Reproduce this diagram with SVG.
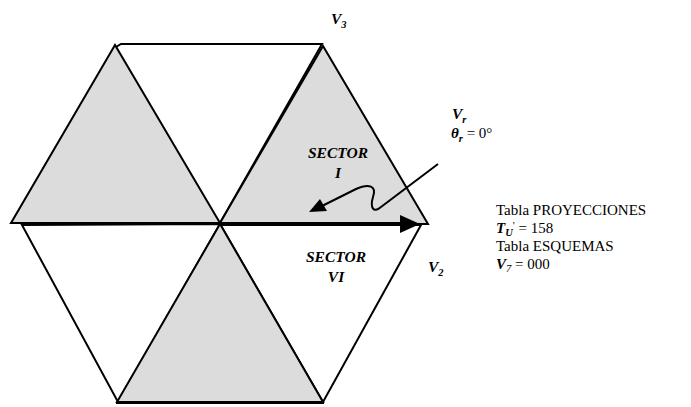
<svg xmlns="http://www.w3.org/2000/svg" width="691" height="407" viewBox="0 0 691 407">
<defs>
<style>
.tri{stroke:#000;stroke-width:2;stroke-linejoin:miter}
.sh{fill:#dcdcdc}
.wh{fill:#fff}
text{font-family:"Liberation Serif","Times New Roman",serif;font-size:15.5px;fill:#000}
.bi{font-weight:bold;font-style:italic}
.sub{font-size:10.5px}
.blk{font-size:15px}
</style>
</defs>
<rect width="691" height="407" fill="#fff"/>
<g id="hexagon">
<polygon id="tri-top-fill" fill="#fff" points="115,45 322,44 220,223"/>
<path id="tri-top" d="M116,47 L121,44 L322,44 L220,223" fill="none" stroke="#000" stroke-width="2"/>
<polygon id="tri-lowleft" class="tri wh" points="22,225 220,224 118,402"/>
<polygon id="tri-lowright" class="tri wh" points="220,224 421,225 323,402"/>
<polygon id="tri-upleft" class="tri sh" points="11,223 220,223 115,45"/>
<polygon id="tri-upright" class="tri sh" points="220,223 323,46 428,224"/>
<polygon id="tri-bottom" class="tri sh" points="220,224 117,402 323,402"/>
<line x1="116" y1="403" x2="324" y2="403" stroke="#000" stroke-width="2"/>
</g>
<g id="connectors">
<line x1="220" y1="224" x2="402" y2="224" stroke="#000" stroke-width="4"/>
<polygon points="400,215 420,224 400,233" fill="#000"/>
<path d="M438,164 L381,207 C373,214 370,207 373,197 C377,186 369,183 356,189 L322,206" fill="none" stroke="#000" stroke-width="2"/>
<polygon points="309,212 320,199 327,211" fill="#000"/>
</g>
<g id="labels">
<text x="331" y="24" class="bi">V<tspan class="sub" dy="4">3</tspan></text>
<text x="338" y="158" class="bi" text-anchor="middle">SECTOR</text>
<text x="338" y="178" class="bi" text-anchor="middle">I</text>
<text x="336" y="262" class="bi" text-anchor="middle">SECTOR</text>
<text x="336" y="282" class="bi" text-anchor="middle">VI</text>
<text x="452" y="119" class="bi">V<tspan class="sub" dy="4">r</tspan></text>
<text x="451" y="138" class="blk"><tspan class="bi">θ</tspan><tspan class="bi sub" dy="4">r</tspan><tspan dy="-4"> = 0°</tspan></text>
<text x="428" y="272" class="bi">V<tspan class="sub" dy="4">2</tspan></text>
<text x="496" y="215" class="blk">Tabla PROYECCIONES</text>
<text x="496" y="233" class="blk"><tspan class="bi">T</tspan><tspan class="bi sub" dy="3">U</tspan><tspan font-size="11" dy="-7">'</tspan><tspan dy="4"> = 158</tspan></text>
<text x="496" y="251" class="blk">Tabla ESQUEMAS</text>
<text x="496" y="269" class="blk"><tspan class="bi">V</tspan><tspan class="sub" font-style="italic" dy="3">7</tspan><tspan dy="-3"> = 000</tspan></text>
</g>
</svg>
